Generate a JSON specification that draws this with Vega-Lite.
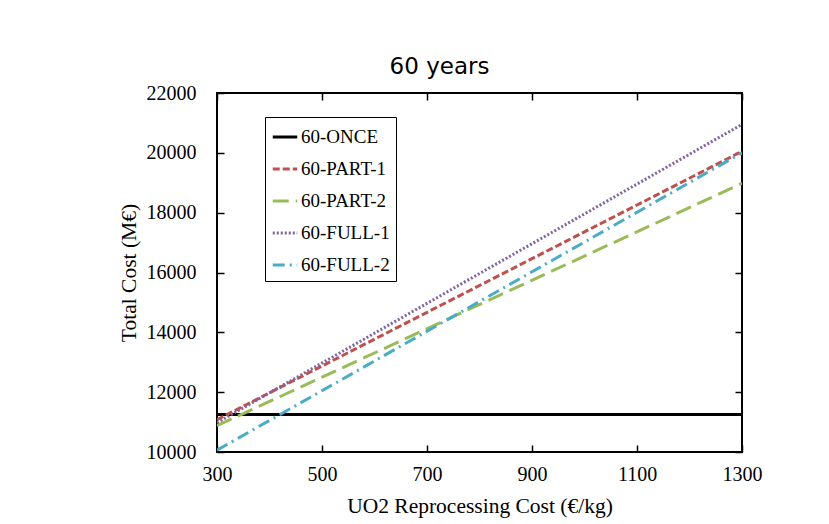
{
  "$schema": "https://vega.github.io/schema/vega-lite/v6.json",
  "width": 525,
  "height": 359,
  "autosize": {"type": "none"},
  "padding": {"left": 217, "top": 93, "right": 87, "bottom": 72},
  "background": "white",
  "title": {"text": "60 years", "font": "DejaVu Sans", "fontSize": 23, "fontWeight": "normal", "color": "black", "anchor": "middle", "dx": -40, "offset": 4},
  "config": {
    "view": {"stroke": "black", "strokeWidth": 2},
    "axis": {"grid": false, "domain": false, "labelFont": "Liberation Serif", "titleFont": "Liberation Serif", "labelFontSize": 20, "titleFontSize": 21.5, "labelColor": "black", "titleColor": "black", "titleFontWeight": "normal", "tickColor": "black", "tickWidth": 1.5, "tickSize": -7, "labelFlush": false, "format": "d"}
  },
  "data": {"values": [
    {"cost": 300, "total": 11250, "series": "60-ONCE"},
    {"cost": 1300, "total": 11250, "series": "60-ONCE"},
    {"cost": 300, "total": 11080, "series": "60-PART-1"},
    {"cost": 1300, "total": 20050, "series": "60-PART-1"},
    {"cost": 300, "total": 10880, "series": "60-PART-2"},
    {"cost": 1300, "total": 18980, "series": "60-PART-2"},
    {"cost": 300, "total": 10980, "series": "60-FULL-1"},
    {"cost": 1300, "total": 20950, "series": "60-FULL-1"},
    {"cost": 300, "total": 10060, "series": "60-FULL-2"},
    {"cost": 1300, "total": 20000, "series": "60-FULL-2"}
  ]},
  "layer": [
    {
      "mark": {"type": "line", "clip": true},
      "encoding": {
        "x": {"field": "cost", "type": "quantitative", "scale": {"domain": [300, 1300], "nice": false, "zero": false},
              "axis": {"orient": "bottom", "values": [300, 500, 700, 900, 1100, 1300], "title": "UO2 Reprocessing Cost (€/kg)", "labelPadding": 19, "titlePadding": 11}},
        "y": {"field": "total", "type": "quantitative", "scale": {"domain": [10000, 22000], "nice": false, "zero": false},
              "axis": {"orient": "left", "values": [10000, 12000, 14000, 16000, 18000, 20000, 22000], "title": "Total Cost (M€)", "labelPadding": 28, "titlePadding": 6}},
        "color": {"field": "series", "type": "nominal",
                  "scale": {"domain": ["60-ONCE", "60-PART-1", "60-PART-2", "60-FULL-1", "60-FULL-2"], "range": ["#000000", "#C0504D", "#9BBB59", "#8064A2", "#4BACC6"]},
                  "legend": {"title": null, "orient": "none", "legendX": 48, "legendY": 24, "symbolType": "stroke", "symbolSize": 600, "symbolStrokeWidth": 3, "labelFont": "Liberation Serif", "labelFontSize": 19, "labelColor": "black", "rowPadding": 8, "padding": 6, "strokeColor": "black", "fillColor": "white", "labelOffset": 2}},
        "strokeDash": {"field": "series", "type": "nominal",
                  "scale": {"domain": ["60-ONCE", "60-PART-1", "60-PART-2", "60-FULL-1", "60-FULL-2"], "range": [[1, 0], [7, 3], [16, 7], [2, 2], [12, 5, 2, 5]]},
                  "legend": {"title": null}},
        "strokeWidth": {"field": "series", "type": "nominal",
                  "scale": {"domain": ["60-ONCE", "60-PART-1", "60-PART-2", "60-FULL-1", "60-FULL-2"], "range": [3, 3, 3, 2.5, 2.5]},
                  "legend": null}
      }
    },
    {
      "mark": {"type": "line", "strokeOpacity": 0},
      "encoding": {
        "x": {"field": "cost", "type": "quantitative", "scale": {"domain": [300, 1300], "nice": false, "zero": false},
              "axis": {"orient": "top", "values": [300, 500, 700, 900, 1100, 1300], "labels": false, "title": null}},
        "y": {"field": "total", "type": "quantitative", "scale": {"domain": [10000, 22000], "nice": false, "zero": false},
              "axis": {"orient": "right", "values": [10000, 12000, 14000, 16000, 18000, 20000, 22000], "labels": false, "title": null}},
        "detail": {"field": "series", "type": "nominal"}
      }
    }
  ],
  "resolve": {"axis": {"x": "independent", "y": "independent"}}
}
